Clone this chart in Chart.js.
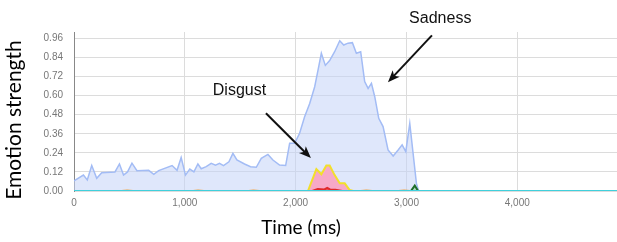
<!DOCTYPE html>
<html>
<head>
<meta charset="utf-8">
<script src="https://cdn.jsdelivr.net/npm/chart.js@4"></script>
<style>
  html, body { margin: 0; padding: 0; background: #fff; }
  #wrap { width: 617px; height: 242px; }
</style>
</head>
<body>
<div id="wrap"><canvas id="emotionChart"></canvas></div>
<script>
// data (time in ms, strength 0..1)
const sadnessTime = [0, 85, 120, 160, 205, 250, 370, 410, 447, 483, 523, 568, 674, 720, 764, 885, 930, 967, 1006, 1045, 1082, 1118, 1148, 1193, 1238, 1277, 1313, 1349, 1398, 1434, 1470, 1539, 1593, 1645, 1690, 1750, 1795, 1855, 1910, 1946, 1991, 2036, 2081, 2127, 2172, 2202, 2232, 2268, 2307, 2352, 2398, 2434, 2473, 2512, 2548, 2587, 2623, 2654, 2684, 2714, 2750, 2789, 2834, 2880, 2925, 2961, 2994, 3030, 3060, 3090, 3110, 4900];
const sadnessValue = [0.063, 0.10, 0.07, 0.16, 0.08, 0.115, 0.12, 0.17, 0.10, 0.12, 0.175, 0.128, 0.13, 0.105, 0.128, 0.16, 0.13, 0.21, 0.10, 0.138, 0.12, 0.17, 0.14, 0.153, 0.174, 0.163, 0.174, 0.16, 0.184, 0.237, 0.195, 0.17, 0.153, 0.149, 0.205, 0.23, 0.195, 0.163, 0.16, 0.30, 0.30, 0.363, 0.467, 0.55, 0.656, 0.76, 0.866, 0.79, 0.82, 0.876, 0.945, 0.918, 0.93, 0.933, 0.866, 0.876, 0.688, 0.645, 0.677, 0.593, 0.457, 0.405, 0.258, 0.22, 0.258, 0.29, 0.247, 0.425, 0.237, 0.048, 0, 0];

const disgustTime = [2111, 2187, 2232, 2277, 2307, 2352, 2398, 2443, 2488, 2520];
const disgustValue = [0, 0.138, 0.105, 0.16, 0.16, 0.10, 0.048, 0.048, 0.006, 0];

const angerTime = [2150, 2200, 2260, 2285, 2310, 2360, 2420];
const angerValue = [0, 0.012, 0.01, 0.02, 0.01, 0.008, 0];

const fearTime = [3040, 3075, 3105];
const fearValue = [0, 0.034, 0];

const joyTime = [400, 480, 560, 1050, 1120, 1200, 1550, 1620, 1700, 2560, 2640, 2720, 2900, 2980, 3060];
const joyValue = [0, 0.005, 0, 0, 0.004, 0, 0, 0.005, 0, 0, 0.005, 0, 0, 0.004, 0];

const neutralTime = [0, 4900];
const neutralValue = [0, 0];

const yTicks = [0, 0.12, 0.24, 0.36, 0.48, 0.60, 0.72, 0.84, 0.96];

// labels and arrows, in data units
const notes = [
  { text: 'Sadness', t: 3305, v: 1.085, from: [3230, 0.979], to: [2833, 0.684] },
  { text: 'Disgust', t: 1493, v: 0.63, from: [1732, 0.489], to: [2138, 0.207] }
];

function pts(xs, ys) {
  return xs.map((x, i) => ({ x: x, y: ys[i] }));
}

const notesPlugin = {
  id: 'notes',
  afterDatasetsDraw(chart) {
    const ctx = chart.ctx;
    const xs = chart.scales.x, ys = chart.scales.y;
    ctx.save();
    ctx.fillStyle = '#111';
    ctx.strokeStyle = '#111';
    ctx.font = '16px "Liberation Sans", Arial, sans-serif';
    ctx.textAlign = 'center';
    ctx.textBaseline = 'middle';
    notes.forEach(n => {
      ctx.fillText(n.text, xs.getPixelForValue(n.t), ys.getPixelForValue(n.v));
      const x1 = xs.getPixelForValue(n.from[0]), y1 = ys.getPixelForValue(n.from[1]);
      const x2 = xs.getPixelForValue(n.to[0]), y2 = ys.getPixelForValue(n.to[1]);
      const a = Math.atan2(y2 - y1, x2 - x1);
      ctx.lineWidth = 2;
      ctx.beginPath();
      ctx.moveTo(x1, y1);
      ctx.lineTo(x2 - 8 * Math.cos(a), y2 - 8 * Math.sin(a));
      ctx.stroke();
      ctx.beginPath();
      ctx.moveTo(x2, y2);
      ctx.lineTo(x2 - 13 * Math.cos(a - 0.38), y2 - 13 * Math.sin(a - 0.38));
      ctx.lineTo(x2 - 9 * Math.cos(a), y2 - 9 * Math.sin(a));
      ctx.lineTo(x2 - 13 * Math.cos(a + 0.38), y2 - 13 * Math.sin(a + 0.38));
      ctx.closePath();
      ctx.fill();
    });

    // axis titles
    ctx.fillStyle = '#000';
    ctx.font = '19px Lato, "Open Sans", sans-serif';
    ctx.fillText('Time (ms)', 301, 228);
    ctx.font = '21px Lato, "Open Sans", sans-serif';
    ctx.translate(14, 120);
    ctx.rotate(-Math.PI / 2);
    ctx.fillText('Emotion strength', 0, 0);
    ctx.restore();
  }
};

new Chart(document.getElementById('emotionChart'), {
  type: 'line',
  data: {
    datasets: [
      { data: pts(neutralTime, neutralValue), borderColor: '#3fd0dc', borderWidth: 2, fill: false },
      { data: pts(fearTime, fearValue), borderColor: '#1e6e2a', borderWidth: 2, backgroundColor: 'rgba(120,200,120,0.4)', fill: 'origin' },
      { data: pts(angerTime, angerValue), borderColor: '#e02a2a', borderWidth: 2, backgroundColor: 'rgba(230,60,60,0.5)', fill: 'origin' },
      { data: pts(joyTime, joyValue), borderColor: '#f0a040', borderWidth: 1.5, fill: false },
      { data: pts(disgustTime, disgustValue), borderColor: '#f2e02a', borderWidth: 2, backgroundColor: '#f7a9c7', fill: 'origin' },
      { data: pts(sadnessTime, sadnessValue), borderColor: '#a3bcf5', borderWidth: 1.5, backgroundColor: 'rgba(196,211,247,0.55)', fill: 'origin' }
    ]
  },
  options: {
    responsive: true,
    maintainAspectRatio: false,
    animation: false,
    layout: { padding: { top: 32, left: 0, right: 0, bottom: 0 } },
    elements: { point: { radius: 0 }, line: { tension: 0 } },
    plugins: { legend: { display: false }, tooltip: { enabled: false } },
    scales: {
      x: {
        type: 'linear',
        min: 0,
        max: 4900,
        afterFit: s => { s.height = 51; },
        afterBuildTicks: s => { s.ticks = [0, 1000, 2000, 3000, 4000].map(v => ({ value: v })); },
        ticks: {
          padding: 6,
          color: '#777',
          font: { family: '"Liberation Sans", Arial, sans-serif', size: 10 },
          callback: v => v.toLocaleString('en-US')
        },
        grid: { color: '#dcdcdc', drawTicks: false },
        border: { display: false }
      },
      y: {
        min: 0,
        max: 1.0,
        afterFit: s => { s.width = 74; },
        afterBuildTicks: s => { s.ticks = yTicks.map(v => ({ value: v })); },
        ticks: {
          padding: 11,
          color: '#777',
          font: { family: '"Liberation Sans", Arial, sans-serif', size: 10 },
          callback: v => v.toFixed(2)
        },
        grid: { color: '#dcdcdc', drawTicks: false },
        border: { color: '#888', width: 1 }
      }
    }
  },
  plugins: [notesPlugin]
});
</script>
</body>
</html>
